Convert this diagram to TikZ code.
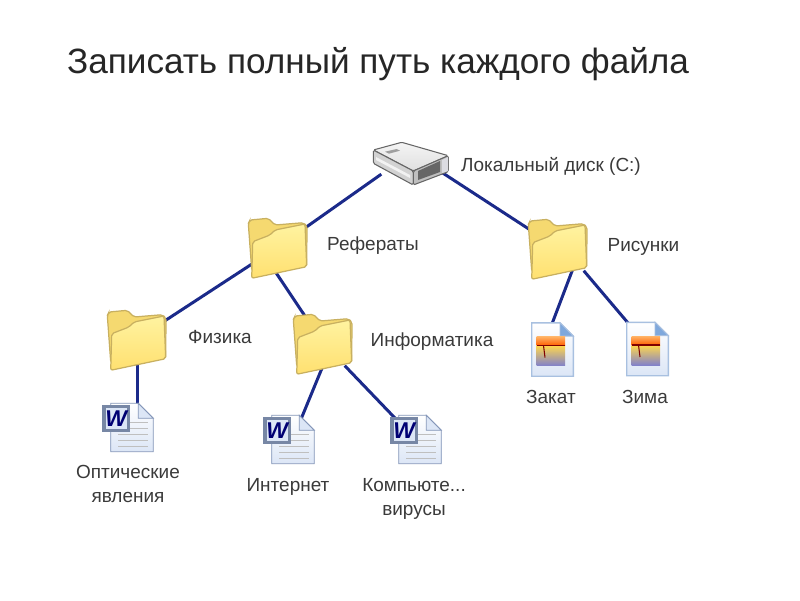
\documentclass[tikz,border=0pt]{standalone}
\usepackage{fontspec}
\setmainfont{Liberation Sans}
\usetikzlibrary{backgrounds}
\definecolor{linkblue}{HTML}{1B2A8A}
\definecolor{labelgrey}{HTML}{3A3A3A}
\definecolor{folderedge}{HTML}{C8B060}
\definecolor{folderback}{HTML}{F5D970}
\definecolor{folderpale}{HTML}{FFF3A0}
\definecolor{folderdeep}{HTML}{FFE070}
\definecolor{pageedge}{HTML}{8496B8}
\definecolor{pagetint}{HTML}{DCE6F6}
\definecolor{photoedge}{HTML}{A8C0E0}
\definecolor{photofold}{HTML}{7FA8DC}
\tikzset{
  folderbox/.style={inner sep=0pt, minimum width=0.5cm, minimum height=0.44cm},
  wordbox/.style={inner sep=0pt, minimum width=0.4cm, minimum height=0.4cm},
  imagebox/.style={inner sep=0pt, minimum width=0.36cm, minimum height=0.5cm},
  diskbox/.style={inner sep=0pt, minimum width=0.6cm, minimum height=0.24cm},
  link/.style={draw=linkblue, line width=0.03cm},
  label/.style={inner sep=0pt, text=labelgrey, font=\fontsize{5.4}{6.7}\selectfont, align=center},
  foldericon/.pic={
    \draw[draw=folderedge, line width=0.35pt, fill=folderback, rounded corners=0.02cm]
      (-.263,-.23) -- (-.297,.237) -- (-.28,.27) -- (-.097,.287) -- (-.03,.22) -- (.253,.243) -- (.29,.21) -- (.287,-.197) -- cycle;
    \draw[draw=folderedge, line width=0.35pt, top color=folderpale, bottom color=folderdeep, rounded corners=0.02cm]
      (-.253,.053) -- (-.08,.12) -- (-.03,.17) -- (.27,.23) -- (.287,-.197) -- (-.263,-.313) -- cycle;
  },
  wordicon/.pic={
    \draw[draw=pageedge, line width=0.25pt, top color=white, bottom color=pagetint]
      (-.173,.247) -- (.103,.247) -- (.253,.097) -- (.253,-.237) -- (-.173,-.237) -- cycle;
    \draw[draw=pageedge, line width=0.25pt, fill=pagetint] (.103,.247) -- (.103,.097) -- (.253,.097) -- cycle;
    \foreach \y in {.06,0,-.06,-.12,-.18}
      \draw[gray!50, line width=0.2pt] (-.10,\y) -- (.2,\y);
    \fill[pageedge!90!black] (-.257,-.037) rectangle (.02,.23);
    \fill[pagetint] (-.225,-.005) rectangle (-.012,.198);
    \node[inner sep=0pt, text=blue!45!black, font=\fontsize{6.5}{7}\selectfont\bfseries\itshape] at (-.118,.096) {W};
  },
  imageicon/.pic={
    \draw[draw=photoedge, line width=0.4pt, top color=white, bottom color=pagetint]
      (-.203,.267) -- (.08,.267) -- (.213,.134) -- (.213,-.267) -- (-.203,-.267) -- cycle;
    \draw[draw=photoedge, line width=0.25pt, fill=photofold] (.08,.267) -- (.08,.134) -- (.213,.134) -- cycle;
    \shade[top color=orange!60!white, bottom color=orange!75!red] (-.153,.13) rectangle (.13,.04);
    \shade[top color=orange!45!yellow!70!white, bottom color=blue!40!gray!70!white] (-.153,.04) rectangle (.13,-.16);
    \draw[red!50!black, line width=0.4pt] (-.153,.04) -- (.13,.04);
    \draw[red!50!black, line width=0.3pt] (-.085,.04) -- (-.07,-.08);
  },
  diskicon/.pic={
    \draw[draw=gray!80!black, line width=0.3pt, top color=gray!8, bottom color=gray!25, rounded corners=0.015cm] (-.387,.13) -- (-.103,.207) -- (.363,.073) -- (.013,-.08) -- cycle;
    \draw[draw=gray!80!black, line width=0.3pt, fill=gray!35, rounded corners=0.015cm] (-.387,.13) -- (.013,-.08) -- (.013,-.22) -- (-.387,-.003) -- cycle;
    \fill[gray!10] (-.36,.06) -- (-.02,-.12) -- (-.02,-.15) -- (-.36,.03) -- cycle;
    \draw[draw=gray!80!black, line width=0.3pt, fill=gray!50, rounded corners=0.015cm] (.013,-.08) -- (.363,.073) -- (.363,-.087) -- (.013,-.22) -- cycle;
    \fill[black!60] (.06,-.08) -- (.28,.02) -- (.28,-.09) -- (.06,-.17) -- cycle;
    \fill[blue!10!gray!25] (.30,.03) -- (.36,.06) -- (.36,-.08) -- (.30,-.10) -- cycle;
    \fill[gray!75] (-.27,.113) -- (-.153,.14) -- (-.12,.123) -- (-.23,.093) -- cycle;
  }
}
\begin{document}
\begin{tikzpicture}
    \useasboundingbox (0,0) rectangle (8,6);
    %title
    \node[inner sep=0pt, text=black!85, font=\fontsize{10}{12}\selectfont] (title) at (3.78,5.36) {Записать полный путь каждого файла};
    %icons
    \node[diskbox] (disk) at (4.12,4.37) {};
    \pic at (disk) {diskicon};
    \foreach \n/\p in {refs/{2.78,3.53}, phys/{1.37,2.61}, inf/{3.23,2.57}, pics/{5.58,3.52}} {
        \node[folderbox] (\n) at (\p) {};
        \pic at (\n) {foldericon};
    }
    \foreach \n/\p in {optic/{1.28,1.72}, inet/{2.89,1.60}, virus/{4.16,1.60}} {
        \node[wordbox] (\n) at (\p) {};
        \pic at (\n) {wordicon};
    }
    \foreach \n/\p in {sunset/{5.52,2.505}, winter/{6.47,2.51}} {
        \node[imagebox] (\n) at (\p) {};
        \pic at (\n) {imageicon};
    }
    %labels
    \node[label] (disklabel) at (5.51,4.34) {Локальный диск (C:)};
    \node[label] (refslabel) at (3.73,3.54) {Рефераты};
    \node[label] (picslabel) at (6.435,3.53) {Рисунки};
    \node[label] (physlabel) at (2.20,2.63) {Физика};
    \node[label] (inflabel) at (4.32,2.58) {Информатика};
    \node[label] (opticlabel) at (1.28,1.16) {Оптические\\явления};
    \node[label] (inetlabel) at (2.88,1.13) {Интернет};
    \node[label] (viruslabel) at (4.14,1.01) {Компьюте...\\вирусы};
    \node[label] (sunsetlabel) at (5.51,2.03) {Закат};
    \node[label] (winterlabel) at (6.45,2.03) {Зима};
    %links
    \begin{scope}[on background layer]
        \draw[link] (disk.200) -- (refs);
        \draw[link] (disk.-18) -- (pics);
        \draw[link] (refs) -- (phys);
        \draw[link] (refs.-100) -- (inf);
        \draw[link] (phys.south) -- (optic.north -| phys.south);
        \draw[link] (inf.south) -- (inet.60);
        \draw[link] (inf) -- (virus);
        \draw[link] (pics.-58) -- (sunset.north);
        \draw[link] (pics.south east) -- (winter.north west);
    \end{scope}
\end{tikzpicture}
\end{document}
